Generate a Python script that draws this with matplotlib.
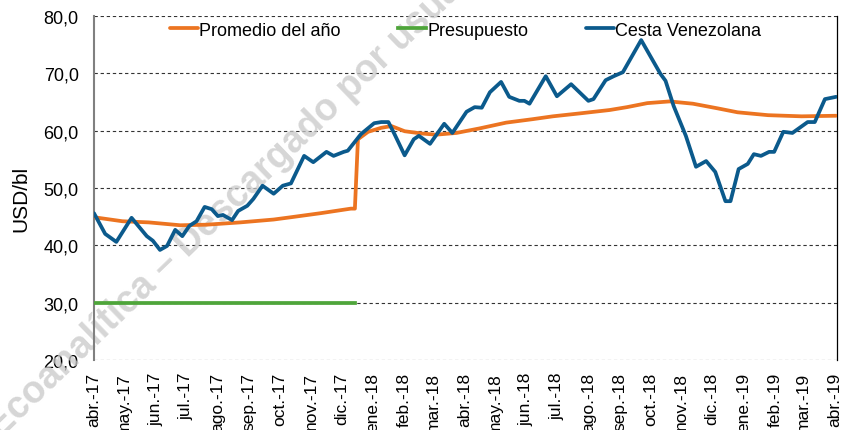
import pandas as pd
import matplotlib.pyplot as plt

plt.rcParams['font.family'] = ['Liberation Sans', 'DejaVu Sans']

# Cesta Venezolana (USD/bl)
cesta_fechas = ['2017-04-01', '2017-04-12', '2017-04-23', '2017-05-08', '2017-05-23', '2017-05-29',
                '2017-06-05', '2017-06-12', '2017-06-20', '2017-06-27', '2017-07-04', '2017-07-11',
                '2017-07-19', '2017-07-26', '2017-08-01', '2017-08-06', '2017-08-15', '2017-08-21',
                '2017-08-30', '2017-09-05', '2017-09-14', '2017-09-25', '2017-10-04', '2017-10-12',
                '2017-10-25', '2017-11-03', '2017-11-16', '2017-11-23', '2017-12-03', '2017-12-07',
                '2017-12-20', '2018-01-02', '2018-01-09', '2018-01-16', '2018-01-22', '2018-02-01',
                '2018-02-10', '2018-02-15', '2018-02-26', '2018-03-12', '2018-03-20', '2018-04-03',
                '2018-04-11', '2018-04-18', '2018-04-26', '2018-05-07', '2018-05-15', '2018-05-25',
                '2018-05-30', '2018-06-04', '2018-06-20', '2018-07-01', '2018-07-15', '2018-08-01',
                '2018-08-06', '2018-08-18', '2018-08-26', '2018-09-04', '2018-09-22', '2018-10-01',
                '2018-10-11', '2018-10-16', '2018-10-24', '2018-11-05', '2018-11-15', '2018-11-25',
                '2018-12-04', '2018-12-14', '2018-12-19', '2018-12-27', '2019-01-05', '2019-01-11',
                '2019-01-18', '2019-01-26', '2019-01-31', '2019-02-09', '2019-02-18', '2019-03-05',
                '2019-03-12', '2019-03-22', '2019-04-02']
cesta_usd = [45.6, 42.0, 40.6, 44.8, 41.6, 40.8,
             39.2, 39.9, 42.7, 41.6, 43.4, 44.2,
             46.7, 46.3, 45.1, 45.3, 44.4, 46.0,
             46.9, 48.1, 50.4, 49.0, 50.4, 50.8,
             55.6, 54.5, 56.3, 55.6, 56.3, 56.5,
             59.4, 61.3, 61.5, 61.5, 59.4, 55.7,
             58.5, 59.1, 57.7, 61.2, 59.6, 63.3,
             64.1, 64.0, 66.7, 68.5, 65.9, 65.2,
             65.2, 64.7, 69.5, 66.0, 68.1, 65.2,
             65.5, 68.8, 69.5, 70.2, 75.8, 73.0,
             69.9, 68.7, 64.3, 59.1, 53.7, 54.7,
             52.8, 47.7, 47.7, 53.3, 54.2, 55.9,
             55.6, 56.3, 56.3, 59.8, 59.6, 61.5,
             61.5, 65.5, 65.9]

# Promedio del año
prom_fechas = ['2017-04-01', '2017-04-29', '2017-05-25', '2017-06-25', '2017-07-21', '2017-08-23',
               '2017-09-25', '2017-10-12', '2017-11-10', '2017-12-10', '2017-12-14', '2017-12-17',
               '2017-12-27', '2018-01-09', '2018-01-19', '2018-02-01', '2018-02-18', '2018-03-04',
               '2018-03-24', '2018-04-16', '2018-05-12', '2018-06-07', '2018-06-27', '2018-07-23',
               '2018-08-22', '2018-09-08', '2018-09-28', '2018-10-20', '2018-11-12', '2018-12-06',
               '2018-12-26', '2019-01-25', '2019-02-27', '2019-04-02']
prom_usd = [44.9, 44.2, 44.0, 43.5, 43.6, 44.0,
            44.5, 44.9, 45.6, 46.4, 46.4, 58.5,
            59.8, 60.5, 60.8, 59.9, 59.5, 59.3,
            59.6, 60.4, 61.4, 62.0, 62.5, 63.0,
            63.6, 64.1, 64.8, 65.1, 64.7, 63.9,
            63.2, 62.7, 62.5, 62.6]

# Presupuesto
pres_fechas = ['2017-04-01', '2017-12-14']
pres_usd = [30.0, 30.0]

meses = ['abr.-17', 'may.-17', 'jun.-17', 'jul.-17', 'ago.-17', 'sep.-17', 'oct.-17', 'nov.-17',
         'dic.-17', 'ene.-18', 'feb.-18', 'mar.-18', 'abr.-18', 'may.-18', 'jun.-18', 'jul.-18',
         'ago.-18', 'sep.-18', 'oct.-18', 'nov.-18', 'dic.-18', 'ene.-19', 'feb.-19', 'mar.-19',
         'abr.-19']

fig = plt.figure(figsize=(8.43, 4.31), dpi=100)
ax = fig.add_axes([0.1115, 0.1624, 0.8815, 0.7982])

ax.plot(pd.to_datetime(prom_fechas), prom_usd, color='#EC7421', lw=2.7,
        label='Promedio del año', zorder=3, solid_joinstyle='round', solid_capstyle='round')
ax.plot(pd.to_datetime(pres_fechas), pres_usd, color='#4EA53A', lw=2.7,
        label='Presupuesto', zorder=3)
ax.plot(pd.to_datetime(cesta_fechas), cesta_usd, color='#0B5A8C', lw=2.7,
        label='Cesta Venezolana', zorder=4, solid_joinstyle='round', solid_capstyle='round')

ax.set_ylim(20, 80)
ax.set_yticks(range(20, 81, 10))
ax.set_yticklabels([f'{v},0' for v in range(20, 81, 10)])
ax.set_xlim(pd.Timestamp('2017-04-01'), pd.Timestamp('2019-04-03'))
ticks = pd.date_range('2017-04-01', '2019-04-01', freq='MS')
ax.set_xticks(ticks)
ax.set_xticklabels(meses, rotation=90)
ax.tick_params(axis='both', length=0)
ax.tick_params(axis='y', pad=11, labelsize=13)
ax.tick_params(axis='x', pad=8.5, labelsize=12.5)

ax.grid(axis='y', linestyle=(0, (3, 2.5)), color='#333333', lw=0.8)
ax.set_axisbelow(True)
ax.spines['top'].set_visible(False)
ax.spines['bottom'].set_visible(False)
ax.spines['left'].set_color('#808080')
ax.spines['left'].set_linewidth(1.5)
ax.spines['right'].set_color('black')
ax.spines['right'].set_linewidth(0.9)

ax.set_ylabel('USD/bl', fontsize=15)
ax.yaxis.set_label_coords(-0.086, 0.47)

ax.legend(loc='center', bbox_to_anchor=(0.5, 0.959), ncol=3, frameon=False,
          fontsize=13, handlelength=1.55, handletextpad=0.05, columnspacing=3.2)

# marca de agua
ax.text(0.0, -0.02, 'Ecoanalítica – Descargado por usuario', transform=fig.transFigure,
        rotation=44, rotation_mode='anchor', ha='left', va='baseline', fontsize=27,
        fontweight='bold', color='#c8c8c8', alpha=0.75, clip_on=False, zorder=1)

plt.savefig('out.png', dpi=100)
